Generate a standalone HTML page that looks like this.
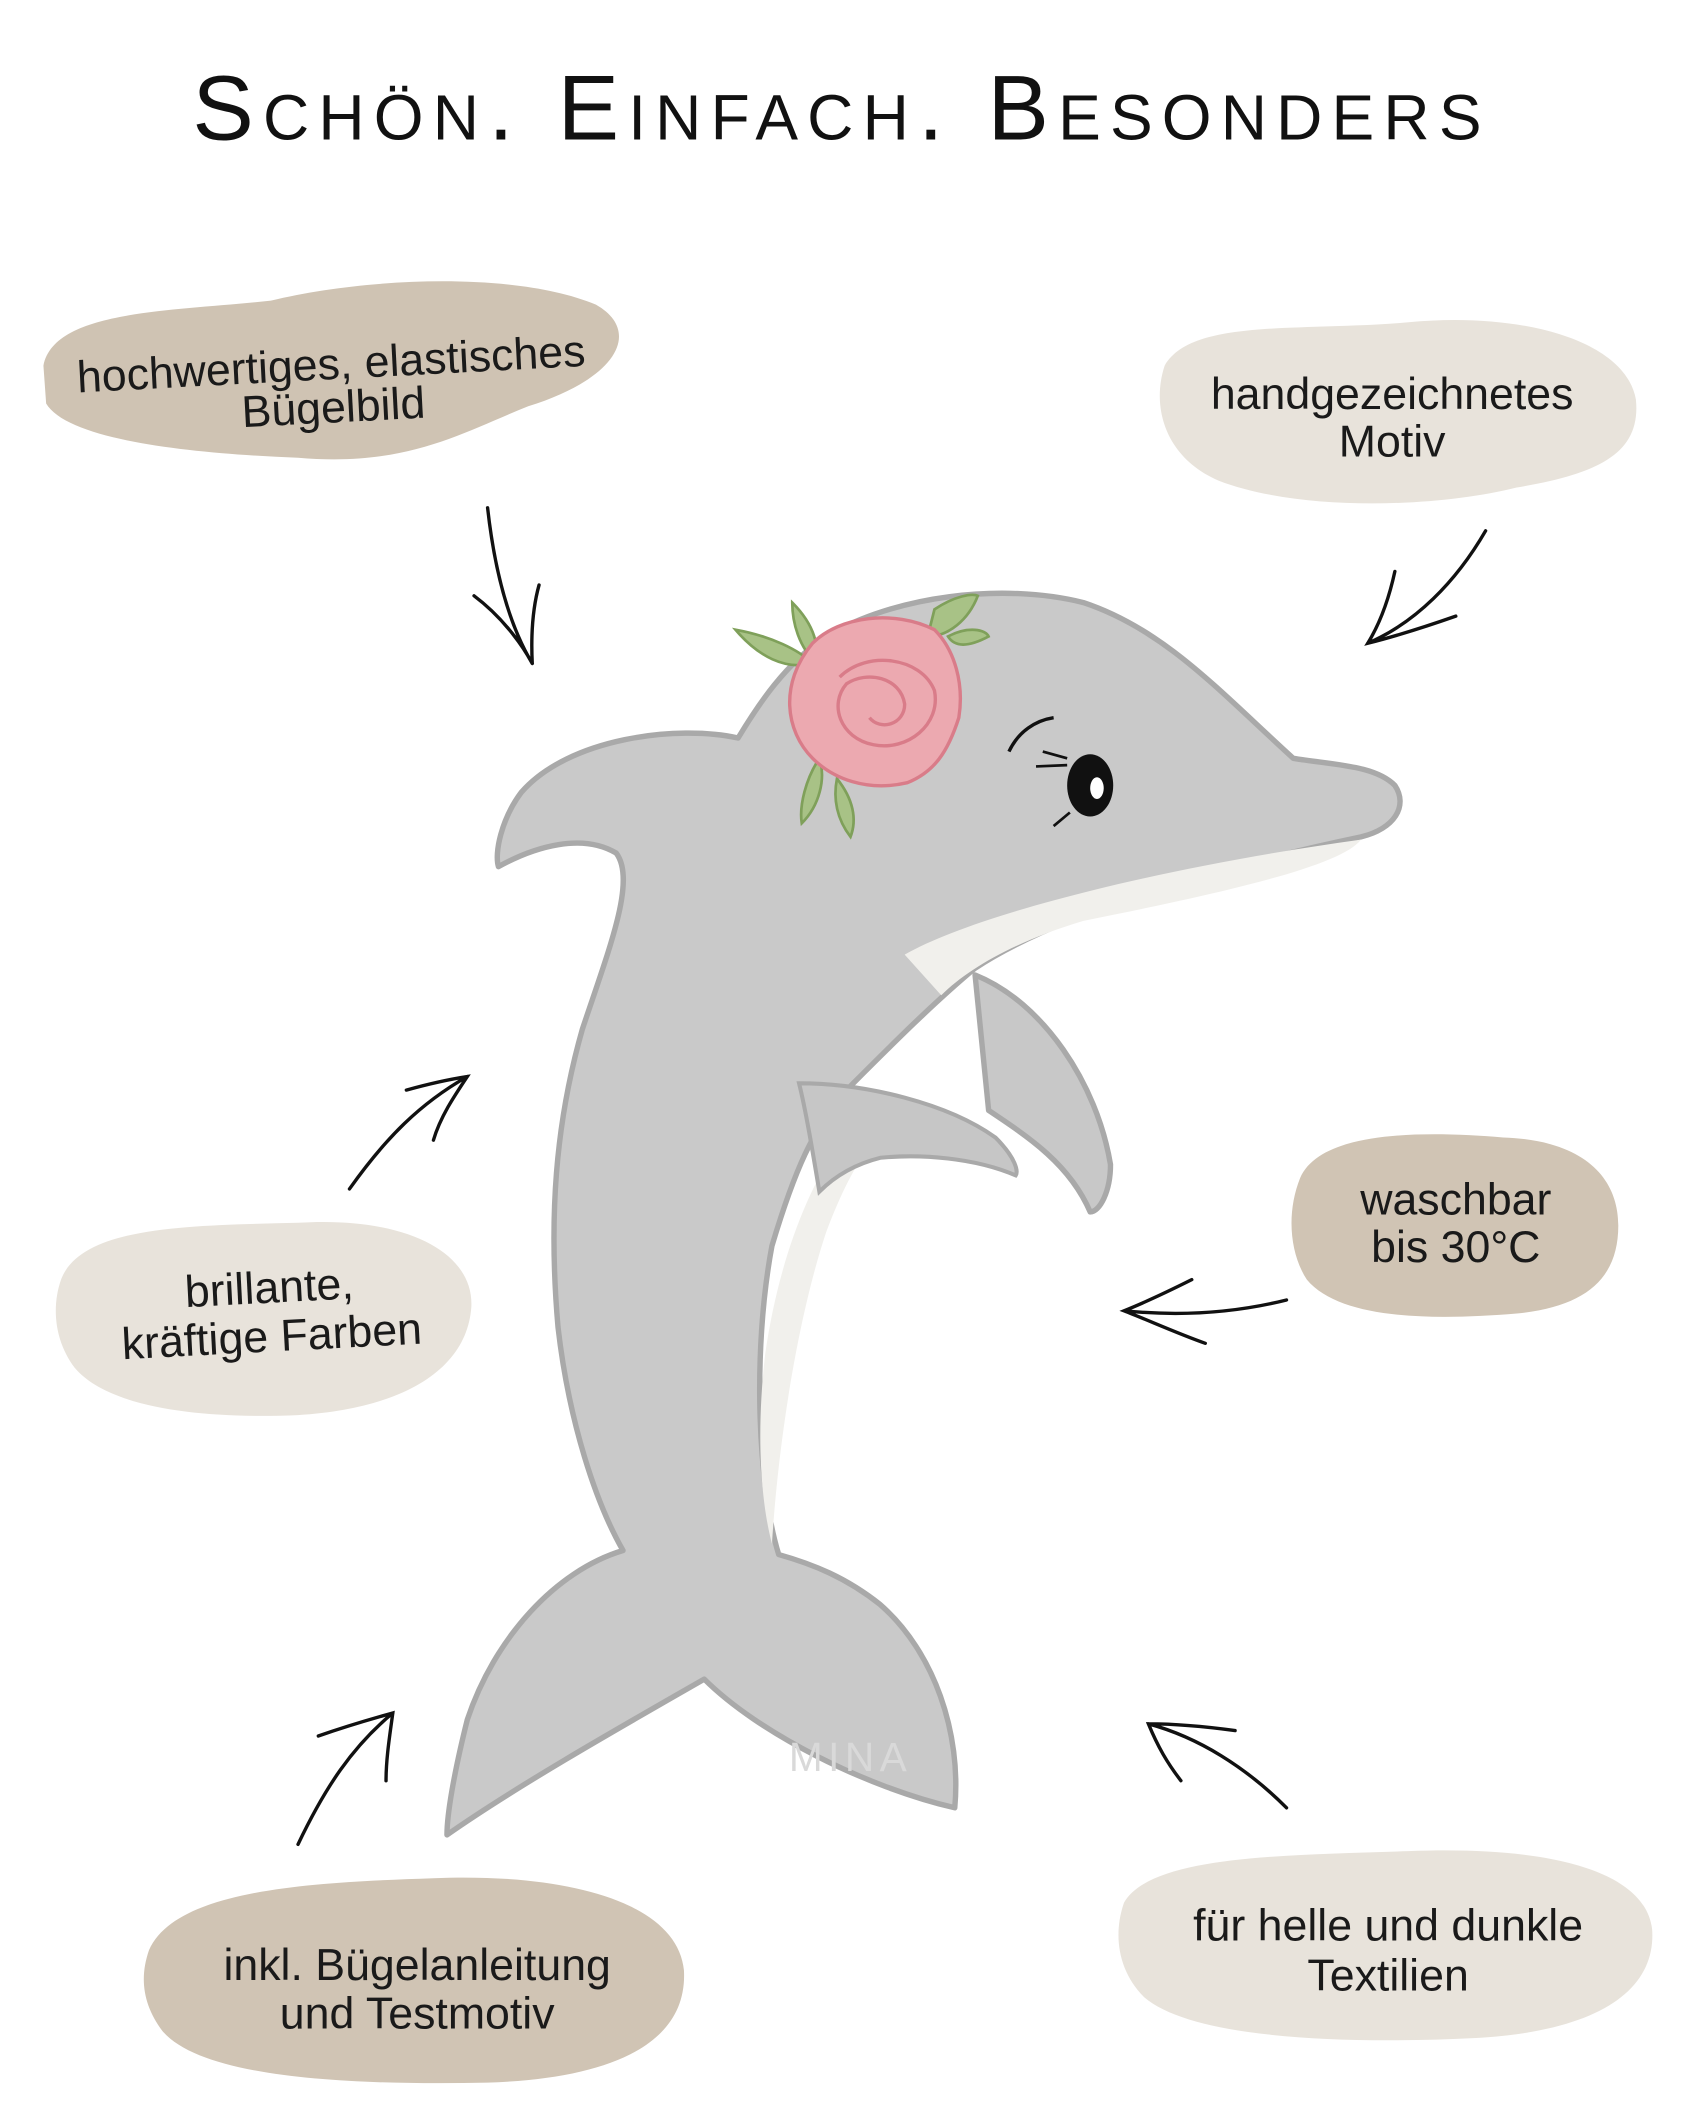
<!DOCTYPE html>
<html><head><meta charset="utf-8"><style>
html,body{margin:0;padding:0;background:#fff}
svg{display:block}
.t{font-family:"Liberation Sans","DejaVu Sans",sans-serif;font-size:33px;fill:#1a1a1a;text-anchor:middle}
</style></head><body>
<svg width="1701" height="2126" viewBox="0 0 1256 1570" xmlns="http://www.w3.org/2000/svg">
<rect width="1256" height="1570" fill="#fff"/>
<text x="622" y="103" text-anchor="middle" font-family="Liberation Sans, sans-serif" font-size="68" letter-spacing="8" fill="#111" style="font-variant:small-caps;font-weight:300" textLength="960" lengthAdjust="spacing">Schön. Einfach. Besonders</text>

<!-- blobs -->
<path d="M32 270 C40 228 130 230 200 222 C270 205 380 200 440 225 C475 245 455 280 390 300 C340 320 300 345 220 338 C140 335 50 325 34 298 Z" fill="#cfc3b3"/>
<path d="M860 270 C880 235 960 245 1040 238 C1120 230 1200 250 1208 295 C1212 335 1180 350 1120 360 C1060 375 960 378 900 355 C860 338 850 300 860 270 Z" fill="#e8e3db"/>
<path d="M45 945 C60 905 140 905 220 903 C300 898 350 925 348 965 C345 1010 300 1040 220 1045 C150 1048 80 1040 55 1010 C40 990 38 965 45 945 Z" fill="#e8e3db"/>
<path d="M960 870 C975 835 1050 835 1110 840 C1170 842 1195 870 1195 905 C1195 945 1170 965 1120 970 C1060 975 990 975 965 945 C952 925 950 895 960 870 Z" fill="#d0c4b4"/>
<path d="M110 1440 C130 1395 230 1390 320 1387 C420 1383 500 1405 505 1455 C508 1510 450 1535 360 1538 C260 1540 150 1535 120 1500 C105 1480 103 1460 110 1440 Z" fill="#d0c4b4"/>
<path d="M830 1405 C850 1370 950 1370 1040 1367 C1140 1363 1215 1380 1220 1425 C1223 1470 1180 1500 1090 1505 C990 1510 880 1505 845 1475 C825 1455 822 1428 830 1405 Z" fill="#e8e3db"/>

<text class="t" transform="rotate(-3 245 280)"><tspan x="245" y="280">hochwertiges, elastisches</tspan><tspan x="245" y="312">Bügelbild</tspan></text>
<text class="t"><tspan x="1028" y="302">handgezeichnetes</tspan><tspan x="1028" y="337">Motiv</tspan></text>
<text class="t" transform="rotate(-3 200 975)"><tspan x="200" y="962">brillante,</tspan><tspan x="200" y="998">kräftige Farben</tspan></text>
<text class="t"><tspan x="1075" y="897">waschbar</tspan><tspan x="1075" y="932">bis 30°C</tspan></text>
<text class="t"><tspan x="308" y="1462">inkl. Bügelanleitung</tspan><tspan x="308" y="1498">und Testmotiv</tspan></text>
<text class="t"><tspan x="1025" y="1433">für helle und dunkle</tspan><tspan x="1025" y="1470">Textilien</tspan></text>

<!-- dolphin -->
<g stroke="#a9a9a9" stroke-width="4" stroke-linejoin="round">
<path d="M720 720 C770 740 810 800 820 860 C820 880 812 895 805 895 C790 860 760 840 730 820 Z" fill="#c8c8c8"/>
<path d="M545 545 C500 535 420 545 385 585 C370 605 365 630 368 640 C395 625 430 615 455 630 C470 650 450 700 430 760 C410 830 405 900 412 980 C420 1050 440 1110 460 1145 C410 1160 365 1210 345 1270 C335 1310 330 1340 330 1355 C380 1320 450 1280 520 1240 C560 1280 640 1320 705 1335 C710 1280 690 1220 650 1185 C625 1165 600 1155 575 1148 C560 1100 555 1000 570 920 C585 870 600 830 630 800 C660 770 690 740 720 715 C780 675 900 640 1005 618 C1030 612 1040 595 1030 580 C1015 565 985 565 955 560 C900 510 860 465 800 445 C740 430 660 440 610 470 C580 490 560 520 545 545 Z" fill="#c9c9c9"/>
</g>
<path d="M668 705 C720 675 860 640 1005 620 C990 640 900 660 800 680 C750 695 715 715 695 735 Z" fill="#f1f0ec"/>
<path d="M640 820 C600 860 575 930 565 1000 C558 1060 562 1110 570 1140 C575 1060 590 970 610 910 C625 870 640 845 660 825 Z" fill="#f1f0ec"/>
<path d="M590 800 C640 800 700 815 735 840 C750 855 752 865 750 868 C720 855 680 852 650 855 C630 860 615 870 605 880 C600 850 595 820 590 800 Z" fill="#c6c6c6" stroke="#a9a9a9" stroke-width="3"/>
<!-- leaves -->
<g fill="#a8c286" stroke="#7fa05a" stroke-width="2">
<path d="M543 465 C570 470 590 480 600 490 C580 495 560 485 543 465 Z"/>
<path d="M585 445 C600 460 605 475 603 490 C590 478 585 460 585 445 Z"/>
<path d="M690 450 C705 440 718 438 722 440 C715 458 700 470 685 470 Z"/>
<path d="M700 470 C715 462 728 465 730 470 C715 478 705 478 700 470 Z"/>
<path d="M605 560 C595 575 590 595 592 608 C605 595 610 575 605 560 Z"/>
<path d="M618 575 C630 590 633 605 628 618 C618 605 615 590 618 575 Z"/>
</g>
<!-- rose -->
<path d="M600 475 C620 455 660 450 690 465 C705 480 712 505 708 530 C700 555 690 570 670 578 C640 585 615 575 600 560 C580 540 575 505 600 475 Z" fill="#eca9b0" stroke="#d97c89" stroke-width="2.5"/>
<path d="M620 500 C640 480 680 485 690 510 C695 535 670 555 645 550 C620 545 612 520 625 505 C640 495 665 500 668 520 C668 535 650 540 642 530" fill="none" stroke="#d97c89" stroke-width="2.5"/>
<!-- eye -->
<ellipse cx="805" cy="580" rx="17" ry="23" fill="#111"/>
<ellipse cx="810" cy="582" rx="5" ry="8" fill="#fff"/>
<path d="M745 555 C752 540 765 532 778 530" stroke="#111" stroke-width="2.5" fill="none"/>
<path d="M788 560 L770 555 M788 565 L765 566 M790 600 L778 610" stroke="#111" stroke-width="2" fill="none"/>
<text x="628" y="1308" text-anchor="middle" font-family="Liberation Sans, sans-serif" font-size="30" letter-spacing="4" fill="#d9d9d9">MINA</text>

<!-- arrows -->
<g stroke="#111" stroke-width="2.5" fill="none" stroke-linecap="round">
<path d="M360 375 C365 420 375 460 393 490 M350 440 C370 455 385 475 393 490 C392 470 393 450 398 432"/>
<path d="M1097 392 C1075 430 1045 460 1010 475 M1030 422 C1025 445 1018 462 1010 475 C1030 470 1055 462 1075 455"/>
<path d="M258 878 C285 840 310 815 345 795 M300 805 C318 800 332 797 345 795 C335 810 325 825 320 842"/>
<path d="M950 960 C910 970 870 972 830 968 M880 945 C860 955 845 962 830 968 C848 975 870 985 890 992"/>
<path d="M220 1362 C240 1320 260 1290 290 1265 M235 1282 C255 1275 272 1270 290 1265 C288 1280 285 1298 285 1315"/>
<path d="M950 1335 C920 1305 885 1283 848 1273 M912 1278 C890 1275 868 1273 848 1273 C855 1290 862 1302 872 1315"/>
</g>
</svg>
</body></html>
